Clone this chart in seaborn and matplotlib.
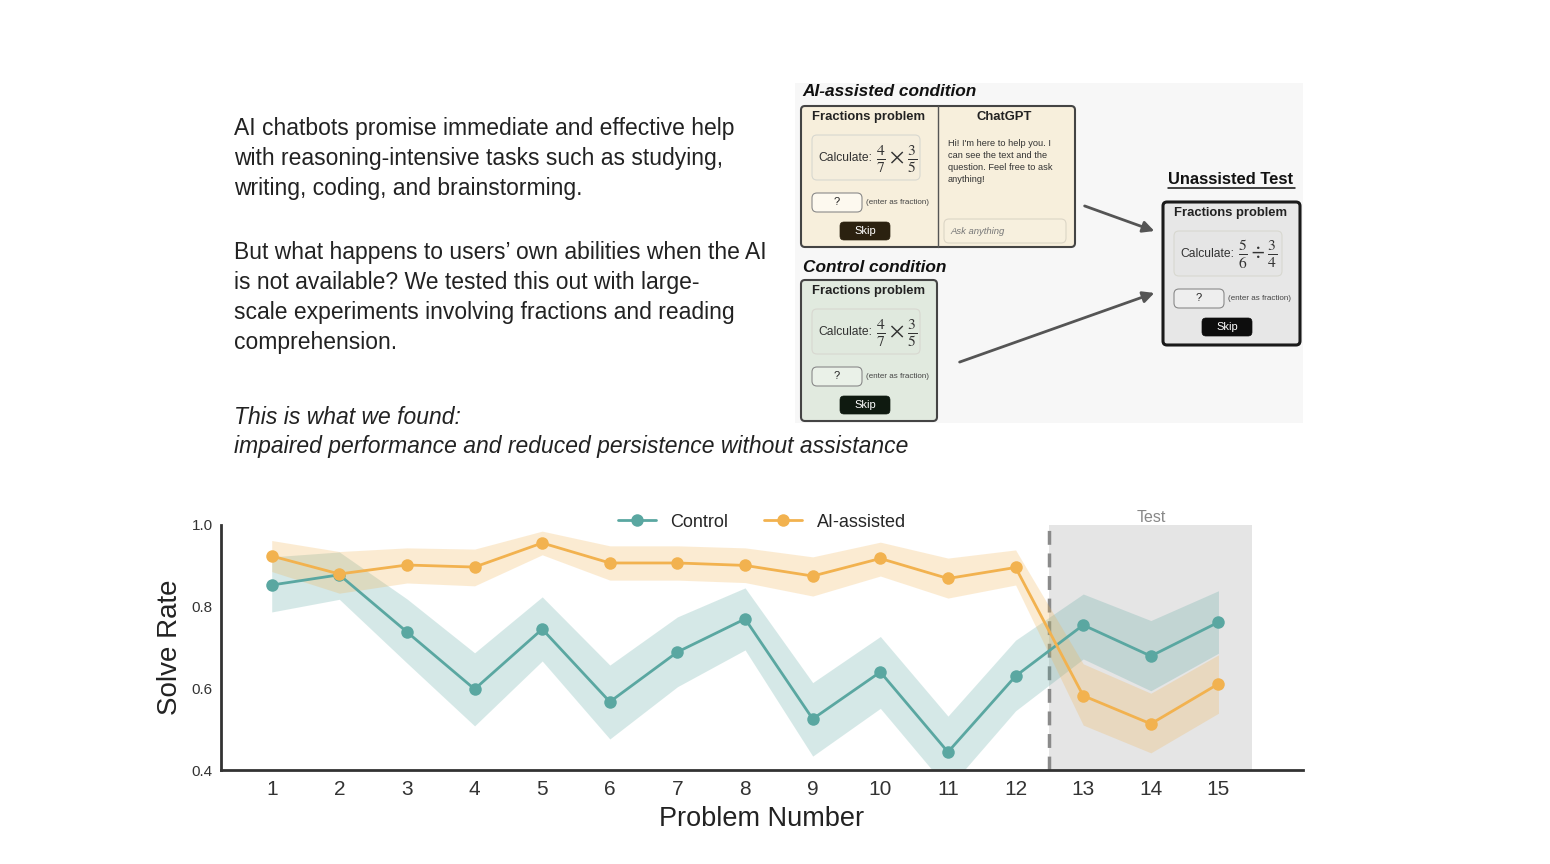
import pandas as pd
import seaborn as sns
import matplotlib.pyplot as plt
from matplotlib.patches import FancyBboxPatch, Rectangle, FancyArrowPatch

# Data
problems = list(range(1, 16))
conditions = ["Control", "AI-assisted"]
colors = ["#5aa7a1", "#f2b24f"]

control_rate = [0.853, 0.878, 0.738, 0.598, 0.745, 0.567, 0.689, 0.770, 0.525, 0.640, 0.444, 0.630, 0.755, 0.679, 0.762]
control_low = [0.787, 0.818, 0.662, 0.508, 0.667, 0.476, 0.604, 0.694, 0.434, 0.551, 0.354, 0.545, 0.672, 0.594, 0.686]
control_high = [0.922, 0.934, 0.819, 0.687, 0.824, 0.657, 0.775, 0.846, 0.614, 0.727, 0.532, 0.718, 0.831, 0.766, 0.839]

ai_rate = [0.924, 0.880, 0.902, 0.897, 0.956, 0.907, 0.907, 0.901, 0.875, 0.918, 0.869, 0.896, 0.582, 0.513, 0.611]
ai_low = [0.886, 0.833, 0.858, 0.851, 0.927, 0.865, 0.865, 0.859, 0.826, 0.875, 0.821, 0.853, 0.510, 0.442, 0.539]
ai_high = [0.962, 0.935, 0.944, 0.941, 0.985, 0.949, 0.949, 0.944, 0.922, 0.958, 0.919, 0.939, 0.660, 0.588, 0.682]

yticks = [0.4, 0.6, 0.8, 1.0]
test_start, test_end = 12.5, 15.5

intro_lines = [
    "AI chatbots promise immediate and effective help",
    "with reasoning-intensive tasks such as studying,",
    "writing, coding, and brainstorming.",
]
question_lines = [
    "But what happens to users\u2019 own abilities when the AI",
    "is not available? We tested this out with large-",
    "scale experiments involving fractions and reading",
    "comprehension.",
]
finding_lines = [
    "This is what we found:",
    "impaired performance and reduced persistence without assistance",
]
chat_lines = [
    "Hi! I'm here to help you. I",
    "can see the text and the",
    "question. Feel free to ask",
    "anything!",
]

df = pd.DataFrame({
    "problem": problems * 2,
    "rate": control_rate + ai_rate,
    "condition": ["Control"] * 15 + ["AI-assisted"] * 15,
})

sns.set_theme(style="white")
plt.rcParams['font.family'] = ['Liberation Sans', 'DejaVu Sans']
plt.rcParams['mathtext.fontset'] = 'stix'

W, H = 1550, 864
fig = plt.figure(figsize=(15.5, 8.64), dpi=100)

# overlay in pixel coordinates for the text and the sketch of the task screens
ov = fig.add_axes([0, 0, 1, 1], zorder=-1)
ov.set_xlim(0, W)
ov.set_ylim(H, 0)
ov.axis('off')

txt = '#222222'
for i, s in enumerate(intro_lines):
    ov.text(234, 129 + 30 * i, s, fontsize=16.5, color=txt, va='center', ha='left')
for i, s in enumerate(question_lines):
    ov.text(234, 252 + 30 * i, s, fontsize=16.5, color=txt, va='center', ha='left')
for i, s in enumerate(finding_lines):
    ov.text(234, 417 + 30 * i, s, fontsize=16.5, color=txt, va='center', ha='left', style='italic')

# ---- sketch of the task screens ----
ov.add_patch(Rectangle((795, 83), 508, 340, fc='#f7f7f7', ec='none'))


def rbox(x0, y0, w, h, fc, ec, lw=1.0, r=4):
    ov.add_patch(FancyBboxPatch((x0, y0), w, h, boxstyle=f"round,pad=0,rounding_size={r}",
                                fc=fc, ec=ec, lw=lw))


def problem_panel(x, y, calc_fc, ans_fc, skip_fc, frac):
    ov.text(x + 68, y + 11, "Fractions problem", fontsize=9.4, fontweight='bold',
            color='#222', ha='center', va='center')
    rbox(x + 11, y + 29, 108, 45, calc_fc, '#d8d8d0', lw=0.8, r=5)
    ov.text(x + 17, y + 52, "Calculate:", fontsize=8.7, color='#333', ha='left', va='center')
    ov.text(x + 75, y + 53, frac, fontsize=16, color='#333', ha='left', va='center')
    rbox(x + 11, y + 87, 50, 19, ans_fc, '#8a8a8a', lw=0.8, r=5)
    ov.text(x + 36, y + 96, "?", fontsize=8, color='#222', ha='center', va='center')
    ov.text(x + 65, y + 96, "(enter as fraction)", fontsize=5.8, color='#444', ha='left', va='center')
    rbox(x + 39, y + 116, 50, 18, skip_fc, skip_fc, lw=0.5, r=4)
    ov.text(x + 64, y + 125, "Skip", fontsize=8, color='white', ha='center', va='center')


frac_mul = r"$\frac{4}{7}\times\frac{3}{5}$"
frac_div = r"$\frac{5}{6}\div\frac{3}{4}$"

# AI-assisted condition
ov.text(802, 92, "AI-assisted condition", fontsize=12.4, fontweight='bold', style='italic',
        color='#111', ha='left', va='center')
rbox(801, 106, 274, 141, '#f7efdc', '#444444', lw=1.5, r=4)
ov.plot([938, 938], [106, 247], color='#555', lw=1.0)
problem_panel(801, 106, '#f5eedd', '#fdf9ef', '#2b2110', frac_mul)
ov.text(1004, 117, "ChatGPT", fontsize=9.4, fontweight='bold', color='#222', ha='center', va='center')
for i, s in enumerate(chat_lines):
    ov.text(948, 143 + 12.3 * i, s, fontsize=6.7, color='#333', ha='left', va='center')
rbox(944, 219, 122, 24, '#f7f0de', '#dcd6c6', lw=0.8, r=5)
ov.text(950, 231, "Ask anything", fontsize=6.8, style='italic', color='#777', ha='left', va='center')

# Control condition
ov.text(803, 268, "Control condition", fontsize=12.4, fontweight='bold', style='italic',
        color='#111', ha='left', va='center')
rbox(801, 280, 136, 141, '#e1eadf', '#444444', lw=1.5, r=4)
problem_panel(801, 280, '#e0e9de', '#eaf1e8', '#0f1a10', frac_mul)

# Unassisted test
ov.text(1231, 179, "Unassisted Test", fontsize=11.9, fontweight='bold', color='#111',
        ha='center', va='center')
ov.plot([1168, 1295], [187.5, 187.5], color='#111', lw=1.1)
rbox(1163, 202, 137, 143, '#e7e7e7', '#1a1a1a', lw=2.2, r=4)
problem_panel(1163, 202, '#e5e5e5', '#eeeeee', '#0d0d0d', frac_div)

# arrows
for (x0, y0), (x1, y1) in [((1082, 205), (1157, 232)), ((957, 363), (1157, 292))]:
    ov.add_patch(FancyArrowPatch((x0, y0), (x1, y1), arrowstyle='-|>', mutation_scale=17,
                                 color='#555555', lw=2))

# ---- chart ----
ax = fig.add_axes([221 / W, 1 - 770 / H, (1303 - 221) / W, (770 - 525) / H])

ax.axvspan(test_start, test_end, color='#e5e5e5', lw=0, zorder=0)
ax.axvline(test_start, color='#8a8a8a', lw=2.5, ls=(0, (4, 2.5)), zorder=1)
ax.text((test_start + test_end) / 2, 1.001, "Test", color='#888888', fontsize=11.5,
        ha='center', va='bottom')

ax.fill_between(problems, control_low, control_high, color=colors[0], alpha=0.25, lw=0, zorder=2)
ax.fill_between(problems, ai_low, ai_high, color=colors[1], alpha=0.25, lw=0, zorder=2)

sns.lineplot(data=df, x='problem', y='rate', hue='condition', hue_order=conditions,
             palette=colors, marker='o', markersize=9, markeredgewidth=0, linewidth=2,
             errorbar=None, ax=ax, zorder=3)

ax.set_xlim(0.25, 16.25)
ax.set_ylim(0.4, 1.0)
ax.set_xticks(problems)
ax.set_yticks(yticks)
ax.set_yticklabels([f"{v:.1f}" for v in yticks])
ax.tick_params(axis='x', labelsize=15, pad=7, length=0, colors='#333333')
ax.tick_params(axis='y', labelsize=11, pad=6, length=0, colors='#333333')
ax.set_xlabel("Problem Number", fontsize=19.5, labelpad=5, color='#222222')
ax.set_ylabel("Solve Rate", fontsize=20, labelpad=6, color='#222222')

sns.despine(ax=ax)
for side in ['left', 'bottom']:
    ax.spines[side].set_color('#333333')
    ax.spines[side].set_linewidth(2)

sns.move_legend(ax, 'center', bbox_to_anchor=(0.5, 1.012), ncol=2, frameon=False, title=None,
                fontsize=13, handlelength=2.1, handletextpad=0.8, columnspacing=2.0)

fig.savefig('out.png', dpi=100, facecolor='white')
